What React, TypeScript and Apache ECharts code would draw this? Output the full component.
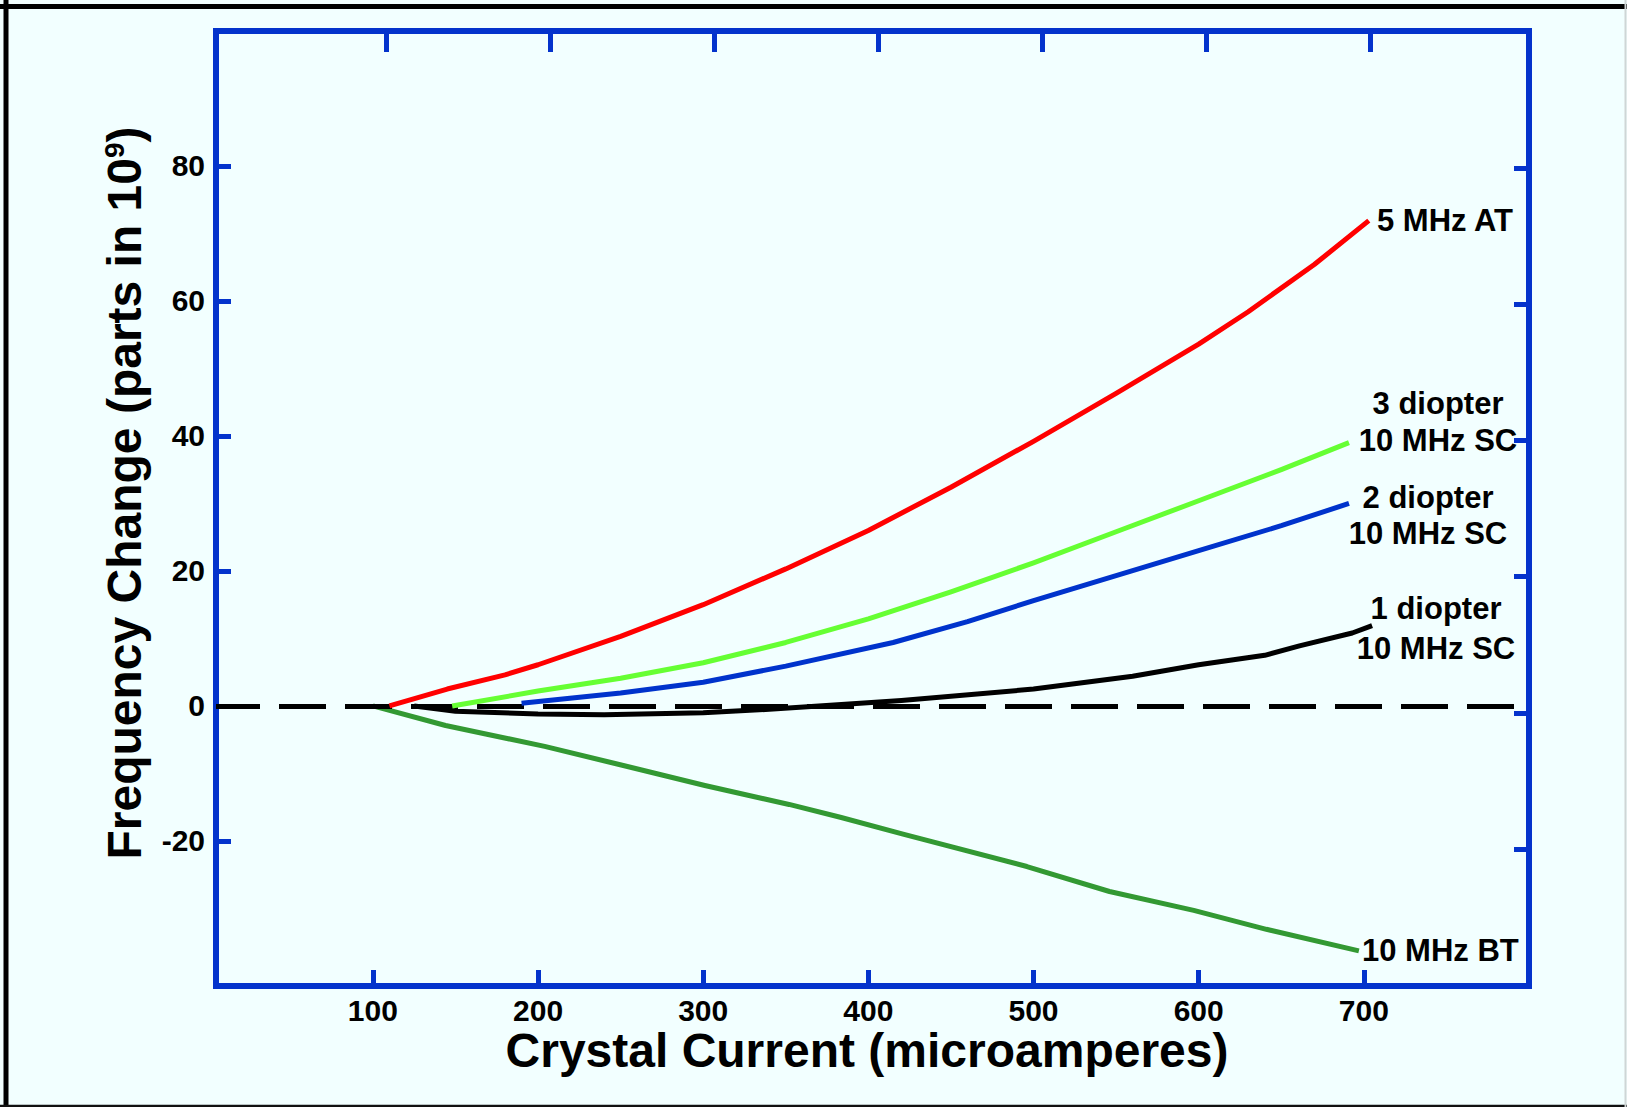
import React, { useEffect, useRef } from "react";
import * as echarts from "echarts";

// ---- data ----
const X_TICKS = [100, 200, 300, 400, 500, 600, 700];
const Y_TICKS = [-20, 0, 20, 40, 60, 80];

const AT5_X = [110, 145, 180, 200, 250, 300, 350, 400, 450, 500, 550, 600, 630, 670, 703];
const AT5_Y = [0, 2.5, 4.6, 6.1, 10.3, 15.0, 20.3, 26.0, 32.4, 39.2, 46.3, 53.6, 58.4, 65.4, 71.9];

const D3_X = [148, 200, 250, 300, 350, 400, 450, 500, 550, 600, 650, 691];
const D3_Y = [0, 2.2, 4.1, 6.4, 9.4, 12.9, 16.9, 21.2, 25.8, 30.4, 35.0, 39.0];

const D2_X = [190, 250, 300, 350, 415, 460, 500, 550, 600, 650, 691];
const D2_Y = [0.4, 1.9, 3.5, 5.9, 9.4, 12.5, 15.6, 19.3, 23.0, 26.7, 30.0];

const D1_X = [125, 150, 200, 240, 300, 340, 370, 420, 500, 560, 600, 640, 661, 693, 705];
const D1_Y = [0, -0.8, -1.2, -1.3, -1.0, -0.5, 0, 0.8, 2.5, 4.4, 6.1, 7.5, 8.9, 10.8, 11.9];

const BT10_X = [100, 144, 204, 251, 301, 352, 383, 421, 496, 546, 597, 641, 697];
const BT10_Y = [0, -2.9, -6.0, -8.8, -11.8, -14.6, -16.5, -19.0, -23.8, -27.5, -30.3, -33.1, -36.3];

const LABEL_AT5 = "5 MHz AT";
const LABEL_D3 = ["3 diopter", "10 MHz SC"];
const LABEL_D2 = ["2 diopter", "10 MHz SC"];
const LABEL_D1 = ["1 diopter", "10 MHz SC"];
const LABEL_BT10 = "10 MHz BT";

const X_TITLE = "Crystal Current (microamperes)";
const Y_TITLE_MAIN = "Frequency Change (parts in 10";
const Y_TITLE_SUP = "9";

// ---- styles ----
const FONT = "'Liberation Sans', Arial, Helvetica, sans-serif";
const BLUE = "#0433CC";
const BG = "#F2FFFF";

const zip = (xs: number[], ys: number[]) => xs.map((x, i) => [x, ys[i]]);

const lineSeries = (name: string, xs: number[], ys: number[], color: string, z: number) => ({
  name,
  type: "line",
  data: zip(xs, ys),
  showSymbol: false,
  symbol: "none",
  smooth: false,
  z,
  lineStyle: { color, width: 5, join: "round" },
});

const txt = (text: string, x: number, y: number, align: string, size = 31) => ({
  type: "text",
  x,
  y,
  z: 10,
  style: {
    text,
    fill: "#000",
    fontSize: size,
    fontWeight: "bold",
    fontFamily: FONT,
    align,
    verticalAlign: "middle",
  },
});

export default function App() {
  const ref = useRef<HTMLDivElement>(null);

  useEffect(() => {
    if (!ref.current) return;
    const chart = echarts.init(ref.current, undefined, { renderer: "svg" });

    const labelStyle = { fontSize: 30, fontWeight: "bold", color: "#000", fontFamily: FONT };
    const tickStyle = { color: BLUE, width: 5 };

    chart.setOption({
      animation: false,
      backgroundColor: BG,
      grid: {
        left: 216,
        top: 31,
        right: 98,
        bottom: 121,
        show: true,
        borderColor: BLUE,
        borderWidth: 6,
        backgroundColor: "transparent",
      },
      xAxis: [
        {
          type: "value",
          position: "bottom",
          min: 5,
          max: 800,
          axisLine: { show: false, onZero: false },
          splitLine: { show: false },
          axisTick: { inside: true, length: 16, customValues: X_TICKS, lineStyle: tickStyle },
          axisLabel: { ...labelStyle, customValues: X_TICKS, margin: 9 },
        },
        {
          type: "value",
          position: "top",
          min: -3.7,
          max: 797,
          axisLine: { show: false, onZero: false },
          splitLine: { show: false },
          axisTick: { inside: true, length: 21, customValues: X_TICKS, lineStyle: tickStyle },
          axisLabel: { show: false },
        },
      ],
      yAxis: [
        {
          type: "value",
          position: "left",
          min: -41.5,
          max: 100,
          axisLine: { show: false, onZero: false },
          splitLine: { show: false },
          axisTick: { inside: true, length: 15, customValues: Y_TICKS, lineStyle: tickStyle },
          axisLabel: { ...labelStyle, customValues: Y_TICKS, margin: 11, padding: [6, 0, 0, 0] },
        },
        {
          type: "value",
          position: "right",
          min: -40.1,
          max: 100.1,
          axisLine: { show: false, onZero: false },
          splitLine: { show: false },
          axisTick: { inside: true, length: 15, customValues: Y_TICKS, lineStyle: tickStyle },
          axisLabel: { show: false },
        },
      ],
      series: [
        {
          name: "zero",
          type: "line",
          data: [],
          z: 1,
          markLine: {
            silent: true,
            symbol: "none",
            label: { show: false },
            lineStyle: { color: "#000", width: 5, type: [47, 19], dashOffset: 3 },
            data: [{ yAxis: 0 }],
          },
        },
        lineSeries(LABEL_BT10, BT10_X, BT10_Y, "#339933", 3),
        lineSeries(LABEL_D1.join(" "), D1_X, D1_Y, "#000000", 4),
        lineSeries(LABEL_D2.join(" "), D2_X, D2_Y, "#0033CC", 5),
        lineSeries(LABEL_D3.join(" "), D3_X, D3_Y, "#66FF33", 6),
        lineSeries(LABEL_AT5, AT5_X, AT5_Y, "#FF0000", 7),
      ],
      graphic: [
        // outer frame
        { type: "line", z: 20, shape: { x1: 0, y1: 6.5, x2: 1627, y2: 6.5 }, style: { stroke: "#000", lineWidth: 5 } },
        { type: "line", z: 20, shape: { x1: 6, y1: 0, x2: 6, y2: 1107 }, style: { stroke: "#000", lineWidth: 5 } },
        { type: "line", z: 20, shape: { x1: 0, y1: 1106, x2: 1627, y2: 1106 }, style: { stroke: "#111", lineWidth: 2.5 } },
        { type: "line", z: 20, shape: { x1: 1625.5, y1: 0, x2: 1625.5, y2: 1107 }, style: { stroke: "#cfd6d6", lineWidth: 2 } },
        // titles
        txt(X_TITLE, 867, 1050, "center", 48),
        {
          type: "text",
          x: 124,
          y: 493,
          rotation: Math.PI / 2,
          z: 10,
          style: {
            text: `{a|${Y_TITLE_MAIN}}{s|${Y_TITLE_SUP}}{a|)}`,
            align: "center",
            verticalAlign: "middle",
            fill: "#000",
            rich: {
              a: { fontSize: 48, fontWeight: "bold", fontFamily: FONT, fill: "#000" },
              s: { fontSize: 28, fontWeight: "bold", fontFamily: FONT, fill: "#000", verticalAlign: "top" },
            },
          },
        },
        // series labels
        txt(LABEL_AT5, 1377, 220, "left"),
        txt(LABEL_D3[0], 1438, 403, "center"),
        txt(LABEL_D3[1], 1438, 440, "center"),
        txt(LABEL_D2[0], 1428, 497, "center"),
        txt(LABEL_D2[1], 1428, 533, "center"),
        txt(LABEL_D1[0], 1436, 608, "center"),
        txt(LABEL_D1[1], 1436, 648, "center"),
        txt(LABEL_BT10, 1362, 950, "left"),
      ],
    });

    return () => chart.dispose();
  }, []);

  return (
    <div
      ref={ref}
      style={{ position: "fixed", left: 0, top: 0, width: 1627, height: 1107, background: BG }}
    />
  );
}
